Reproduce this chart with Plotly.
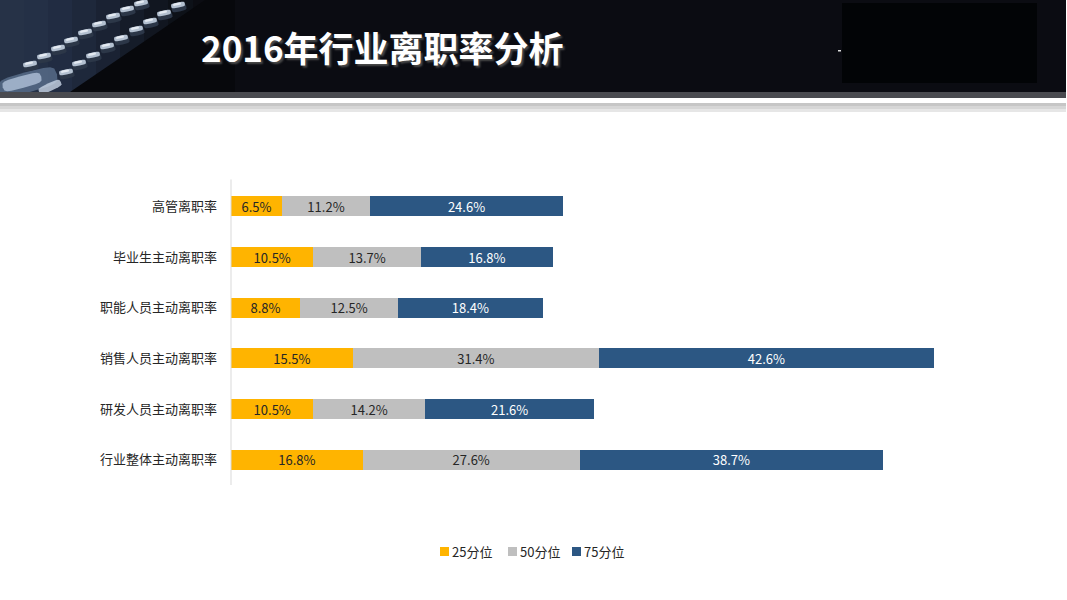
import math
import plotly.graph_objects as go

# 数据
categories = ["高管离职率", "毕业生主动离职率", "职能人员主动离职率",
              "销售人员主动离职率", "研发人员主动离职率", "行业整体主动离职率"]
p25 = [6.5, 10.5, 8.8, 15.5, 10.5, 16.8]
p50 = [11.2, 13.7, 12.5, 31.4, 14.2, 27.6]
p75 = [24.6, 16.8, 18.4, 42.6, 21.6, 38.7]
series_names = ["25分位", "50分位", "75分位"]

W, H = 1067, 600
ML, MR, MT, MB = 231, 51, 181, 115
PW, PH = W - ML - MR, H - MT - MB
FONT = "Noto Sans CJK SC"


def px(x):
    return (x - ML) / PW


def py(y):
    return (H - MB - y) / PH


def rect(x0, y0, x1, y1, color):
    return dict(type="rect", xref="paper", yref="paper",
                x0=px(x0), x1=px(x1), y0=py(y1), y1=py(y0),
                fillcolor=color, line_width=0, layer="below")


def poly(points, color, opacity=1):
    d = "M " + " L ".join(f"{px(a):.5f},{py(b):.5f}" for a, b in points) + " Z"
    return dict(type="path", xref="paper", yref="paper", path=d,
                fillcolor=color, line_width=0, layer="below", opacity=opacity)


def blob(cx, cy, rx, ry, ang, color, opacity=1):
    a = math.radians(ang)
    pts = []
    for k in range(16):
        t = 2 * math.pi * k / 16
        # 圆角矩形近似
        ex = rx * math.copysign(abs(math.cos(t)) ** 0.5, math.cos(t))
        ey = ry * math.copysign(abs(math.sin(t)) ** 0.5, math.sin(t))
        pts.append((cx + ex * math.cos(a) - ey * math.sin(a),
                    cy + ex * math.sin(a) + ey * math.cos(a)))
    return poly(pts, color, opacity)


fig = go.Figure()
colors = ["#FFB400", "#BFBFBF", "#2C5783"]
text_colors = ["#262626", "#262626", "#FFFFFF"]
for name, vals, c, tc in zip(series_names, [p25, p50, p75], colors, text_colors):
    fig.add_trace(go.Bar(
        y=categories, x=vals, name=name, orientation="h",
        marker=dict(color=c, line_width=0),
        text=[f"{v:.1f}%" for v in vals], textposition="inside",
        insidetextanchor="middle", textangle=0, constraintext="none",
        textfont=dict(family=FONT, size=13, color=tc),
        cliponaxis=False, showlegend=False, hoverinfo="skip",
    ))

# 页眉背景
shapes = [rect(0, 0, 1066, 92, "#0B0C12")]
grad = ["#263247", "#243046", "#212C42", "#1E283B", "#1A2233", "#151C29", "#111620", "#0D1118"]
for i, g in enumerate(grad):
    shapes.append(rect(i * 24, 0, i * 24 + 25, 92, g))
shapes.append(poly([(70, 92), (205, 0), (235, 0), (235, 92)], "#07080C"))
# 左下角高光
shapes.append(blob(28, 82, 30, 10, -15, "#5A6F8C", 0.8))
shapes.append(blob(22, 82, 20, 6, -15, "#A9BBD2", 0.85))
shapes.append(blob(50, 87, 12, 4, -25, "#C9D6E6", 0.8))
# 齿轮齿
outer = [(30, 64), (44, 56), (58, 48), (71, 40), (85, 32), (99, 24), (113, 16), (127, 9), (141, 3)]
inner = [(66, 72), (79, 63), (93, 55), (107, 46), (121, 38), (136, 29), (150, 21), (164, 13), (178, 5)]
for (cx, cy) in outer + inner:
    shapes.append(blob(cx + 1, cy + 3, 7.5, 3.5, -12, "#2C3748"))
    shapes.append(blob(cx, cy, 7, 2.6, -12, "#B3C0D0"))
    shapes.append(blob(cx - 1, cy - 0.8, 4, 1.2, -12, "#E4EAF2"))
shapes += [
    rect(842, 3, 1037, 83, "#020406"),
    rect(0, 92, 1066, 98, "#4A4B50"),
    rect(0, 98, 1066, 103, "#FFFFFF"),
    rect(0, 103, 1066, 106, "#C6C6C6"),
    rect(0, 106, 1066, 109, "#D6D6D6"),
    rect(0, 109, 1066, 112, "#E6E6E6"),
    rect(838, 50, 841, 51.5, "#DDDDDD"),
    # 纵轴线
    dict(type="line", xref="paper", yref="paper", x0=0, x1=0, y0=0, y1=1.005,
         line=dict(color="#D9D9D9", width=1)),
]

annotations = [
    dict(text="2016年行业离职率分析", xref="paper", yref="paper",
         x=px(199), y=py(47), xanchor="left", yanchor="middle", showarrow=False,
         font=dict(family=FONT, size=35, color="#FFFFFF", weight="bold",
                   shadow="2px 2px 2px #4A4A4A")),
]

# 图例
leg_x = [440, 508, 572]
for name, c, lx in zip(series_names, colors, leg_x):
    shapes.append(dict(type="rect", xref="paper", yref="paper",
                       x0=px(lx), x1=px(lx + 9), y0=py(556), y1=py(547),
                       fillcolor=c, line_width=0))
    annotations.append(dict(text=name, xref="paper", yref="paper",
                            x=px(lx + 10), y=py(551.5), xanchor="left", yanchor="middle",
                            showarrow=False,
                            font=dict(family=FONT, size=13, color="#262626")))

fig.update_layout(
    width=W, height=H,
    margin=dict(l=ML, r=MR, t=MT, b=MB),
    paper_bgcolor="#FFFFFF", plot_bgcolor="#FFFFFF",
    barmode="stack", bargap=0.605,
    showlegend=False,
    xaxis=dict(range=[0, 100], visible=False, fixedrange=True),
    yaxis=dict(autorange="reversed", showgrid=False, showline=False, ticks="",
               ticklabelstandoff=13, fixedrange=True,
               tickfont=dict(family=FONT, size=13, color="#262626")),
    shapes=shapes, annotations=annotations,
    font=dict(family=FONT),
)

fig.write_html("out.html", config={"displayModeBar": False},
               post_script="document.body.style.margin='0';")
